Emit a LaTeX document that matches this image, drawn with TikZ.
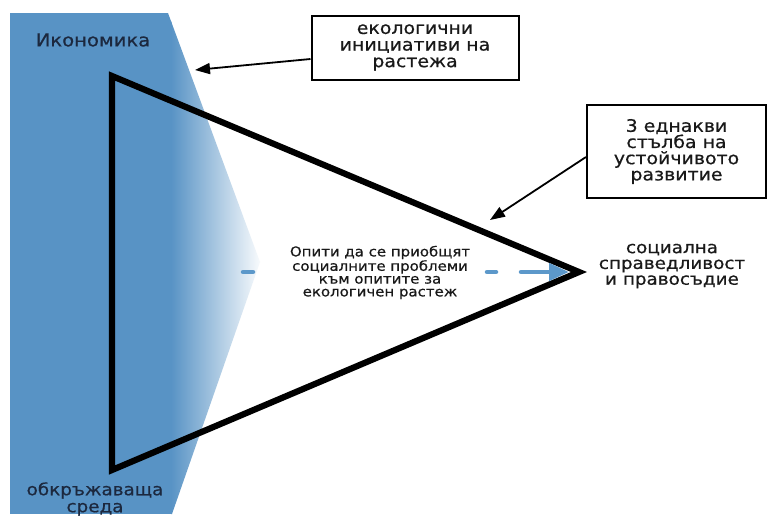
\documentclass[tikz,border=0pt]{standalone}
\usepackage{fontspec}
\setmainfont{DejaVu Sans}
\newfontfamily\wf[FakeStretch=1.1,FakeBold=0.6]{DejaVu Sans}
\usetikzlibrary{arrows.meta}
\definecolor{econblue}{RGB}{88,147,197}
\definecolor{navy}{RGB}{28,40,62}
\definecolor{dashblue}{RGB}{92,152,202}
\definecolor{ink}{RGB}{25,25,25}
\begin{document}
\begin{tikzpicture}[x=1pt,y=-1pt,
  box/.style={draw, line width=2pt, align=center, inner sep=0pt, text=ink},
  lbl/.style={align=center, inner sep=0pt, text=ink},
  arr/.style={draw, line width=1.8pt, -{Triangle[length=15pt,width=11pt]}},
  blarr/.style={draw=dashblue, line width=4.5pt, line cap=round}]
\useasboundingbox[fill=white] (0,0) rectangle (767,522);
% blue economy band with fade
\begin{scope}
  \clip (10,13) -- (168,13) -- (260,262) -- (172,514) -- (10,514) -- cycle;
  \fill[econblue] (10,13) rectangle (172,514);
  \shade[left color=econblue, right color=white] (171,13) rectangle (264,514);
\end{scope}
% triangle
\coordinate (A) at (112,76);
\coordinate (B) at (112,470);
\coordinate (C) at (579,272);
\draw[line width=6.2pt, line join=miter] (A) -- (C) -- (B) -- cycle;
% labels
\node[lbl, text=navy, font=\wf\fontsize{17.8}{17}\selectfont] (econ) at (93,40) {Икономика};
\node[lbl, text=navy, font=\wf\fontsize{16.7}{17}\selectfont] (env) at (95,499) {обкръжаваща\\среда};
\node[lbl, font=\wf\fontsize{16.7}{15.8}\selectfont] (soc) at (672,266) {социална\\справедливост\\и правосъдие};
\node[lbl, font=\wf\fontsize{13.6}{12.8}\selectfont] (mid) at (380,272.5) {Опити да се приобщят\\социалните проблеми\\към опитите за\\екологичен растеж};
% boxes
\node[box, minimum width=207pt, minimum height=64pt, font=\wf\fontsize{17.2}{16.6}\selectfont] (eco) at (415,47.5) {екологични\\инициативи на\\растежа};
\node[box, minimum width=179pt, minimum height=93pt, font=\wf\fontsize{17.2}{16.2}\selectfont] (pil) at (676.5,151.5) {3 еднакви\\стълба на\\устойчивото\\развитие};
% callout arrows
\coordinate (e1) at (195,70);
\coordinate (e2) at (490,220);
\draw[arr] ([yshift=-11.5pt]eco.west) -- (e1);
\draw[arr] ([yshift=-5.5pt]pil.west) -- (e2);
% blue dashed arrow
\coordinate (d1) at (243,272);
\coordinate (d2) at (253,272);
\coordinate (d3) at (487,272);
\coordinate (d4) at (496,272);
\coordinate (d5) at (521,272);
\coordinate (d6) at (569,272);
\draw[blarr] (d1) -- (d2);
\draw[blarr] (d3) -- (d4);
\draw[blarr, -{Triangle[length=20pt,width=17pt]}] (d5) -- (d6);
\end{tikzpicture}
\end{document}
